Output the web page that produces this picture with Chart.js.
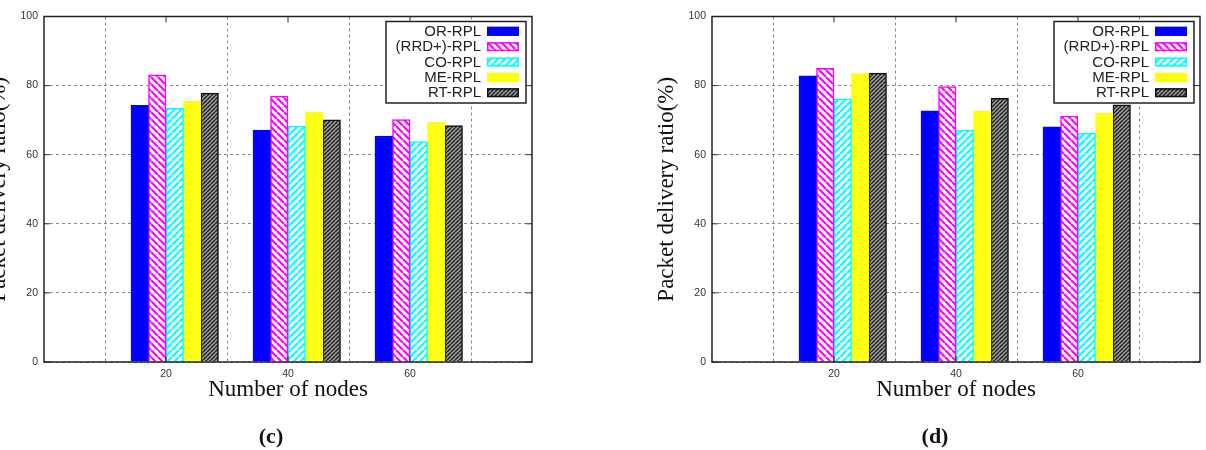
<!DOCTYPE html>
<html>
<head>
<meta charset="utf-8">
<script src="https://cdn.jsdelivr.net/npm/chart.js@4.4.1/dist/chart.umd.min.js"></script>
<style>
  html, body { margin: 0; padding: 0; background: #fff; }
  body { width: 1206px; height: 450px; overflow: hidden; position: relative; }
  .wrap { position: absolute; top: 0; height: 450px; }
  .cap { position: absolute; font-family: 'Liberation Serif', 'Times New Roman', serif; font-weight: bold;
         font-size: 22px; color: #111; transform: translate(-50%, -50%); white-space: nowrap; }
</style>
</head>
<body>
<div class="wrap" style="left:-45px;width:645px"><canvas id="chartC" width="645" height="450"></canvas></div>
<div class="wrap" style="left:623px;width:583px"><canvas id="chartD" width="583" height="450"></canvas></div>
<div class="cap" style="left:271px;top:436px">(c)</div>
<div class="cap" style="left:935px;top:436px">(d)</div>
<script>
// ---- data ----
const tickLabels = ['20', '40', '60'];
const seriesNames = ['OR-RPL', '(RRD+)-RPL', 'CO-RPL', 'ME-RPL', 'RT-RPL'];
const yTicks = [0, 20, 40, 60, 80, 100];

// panel (c)
const orRplC  = [74.3, 67.1, 65.4];
const rrdRplC = [83.1, 77.0, 70.2];
const coRplC  = [73.4, 68.3, 63.8];
const meRplC  = [75.5, 72.4, 69.4];
const rtRplC  = [77.8, 70.1, 68.4];

// panel (d)
const orRplD  = [82.8, 72.7, 68.1];
const rrdRplD = [85.0, 79.7, 71.2];
const coRplD  = [76.2, 67.1, 66.2];
const meRplD  = [83.5, 72.6, 72.0];
const rtRplD  = [83.6, 76.3, 74.4];

const xTitle = 'Number of nodes';
const yTitle = 'Packet delivery ratio(%)';

// ---- helpers ----
function hatch(ctx, bg, fg, dir, size, lw) {
  const c = document.createElement('canvas');
  c.width = size; c.height = size;
  const g = c.getContext('2d');
  g.fillStyle = bg; g.fillRect(0, 0, size, size);
  g.strokeStyle = fg; g.lineWidth = lw;
  g.beginPath();
  for (const o of [-size, 0, size]) {
    if (dir === '/') { g.moveTo(o, size); g.lineTo(o + size, 0); }
    else { g.moveTo(o, 0); g.lineTo(o + size, size); }
  }
  g.stroke();
  return ctx.createPattern(c, 'repeat');
}

const axisLabels = ['', ...tickLabels, ''];
const pad = arr => [null, ...arr, null];

const framePlugin = {
  id: 'frameLegend',
  afterDatasetsDraw(chart) {
    const { ctx, chartArea: a, scales: { x, y } } = chart;
    ctx.save();
    ctx.setLineDash([]);
    // inward tick marks
    ctx.strokeStyle = '#333';
    ctx.lineWidth = 1;
    ctx.beginPath();
    for (const v of yTicks) {
      const py = y.getPixelForValue(v);
      ctx.moveTo(a.left, py); ctx.lineTo(a.left + 6, py);
      ctx.moveTo(a.right, py); ctx.lineTo(a.right - 6, py);
    }
    axisLabels.forEach((l, i) => {
      if (!l) return;
      const px = x.getPixelForValue(i);
      ctx.moveTo(px, a.bottom); ctx.lineTo(px, a.bottom - 6);
      ctx.moveTo(px, a.top); ctx.lineTo(px, a.top + 6);
    });
    ctx.stroke();
    // frame
    ctx.strokeStyle = '#222';
    ctx.lineWidth = 1.5;
    ctx.strokeRect(a.left, a.top, a.right - a.left, a.bottom - a.top);

    // legend (gnuplot style: text right-aligned, sample on the right)
    const sampleRight = a.right - 13;
    const sampleLeft = sampleRight - 32;
    const textRight = sampleLeft - 6;
    const boxRight = sampleRight + 7;
    const boxLeft = textRight - 95;
    const boxTop = a.top + 5;
    const boxBottom = a.top + 86.5;
    ctx.fillStyle = '#fff';
    ctx.fillRect(boxLeft, boxTop, boxRight - boxLeft, boxBottom - boxTop);
    ctx.strokeStyle = '#222';
    ctx.lineWidth = 1.5;
    ctx.strokeRect(boxLeft, boxTop, boxRight - boxLeft, boxBottom - boxTop);
    const ds = chart.data.datasets.filter(d => d.label);
    ctx.font = '15px "Liberation Sans", Arial, sans-serif';
    ctx.textAlign = 'right';
    ctx.textBaseline = 'middle';
    ds.forEach((d, i) => {
      const ry = a.top + 14.8 + 15.35 * i;
      ctx.fillStyle = '#222';
      ctx.fillText(d.label, textRight, ry + 0.5);
      ctx.fillStyle = d.backgroundColor;
      ctx.fillRect(sampleLeft, ry - 4.5, 32, 9);
      ctx.strokeStyle = d.borderColor;
      ctx.lineWidth = 1.5;
      ctx.strokeRect(sampleLeft + 0.75, ry - 3.75, 30.5, 7.5);
    });
    ctx.restore();
  }
};

function makeChart(id, series, rightPad) {
  const canvas = document.getElementById(id);
  const ctx = canvas.getContext('2d');
  const styles = [
    { bg: '#0000ff', bd: '#0000ff' },
    { bg: hatch(ctx, '#ffffff', '#ff00ff', '\\', 7, 2.2), bd: '#ff00ff' },
    { bg: hatch(ctx, '#ffffff', '#00ffff', '/', 7, 2.2), bd: '#00ffff' },
    { bg: hatch(ctx, '#ffff00', '#ffff70', '\\', 4, 0.8), bd: '#ffff00' },
    { bg: hatch(ctx, '#a0a0a0', '#1a1a1a', '/', 4, 1.4), bd: '#111111' }
  ];
  const datasets = [
    // empty gap slot (gnuplot cluster gap)
    { label: '', data: pad([null, null, null]), backgroundColor: 'rgba(0,0,0,0)', borderWidth: 0 }
  ];
  series.forEach((s, i) => {
    datasets.push({
      label: seriesNames[i],
      data: pad(s),
      backgroundColor: styles[i].bg,
      borderColor: styles[i].bd,
      borderWidth: 1.5,
      borderSkipped: 'bottom'
    });
  });
  return new Chart(ctx, {
    type: 'bar',
    data: { labels: axisLabels, datasets },
    plugins: [framePlugin],
    options: {
      responsive: false,
      animation: false,
      events: [],
      barThickness: 17.5,
      layout: { padding: { left: 0, right: rightPad, top: 16.5, bottom: 0 } },
      plugins: { legend: { display: false }, tooltip: { enabled: false } },
      scales: {
        x: {
          type: 'category',
          offset: false,
          grid: { display: true, color: '#8a8a8a', lineWidth: 1, drawTicks: false },
          border: { display: false, dash: [3, 3] },
          ticks: { padding: 6, maxRotation: 0, autoSkip: false, color: '#333',
                   font: { family: 'Liberation Sans', size: 10.5 } },
          title: { display: true, text: xTitle, color: '#111',
                   font: { family: 'Liberation Serif', size: 23 },
                   padding: { top: 0, bottom: 46.2 } },
          afterFit(scale) { scale.height = 88; }
        },
        y: {
          min: 0, max: 100,
          grid: { display: true, color: '#8a8a8a', lineWidth: 1, drawTicks: false },
          border: { display: false, dash: [3, 3] },
          ticks: { stepSize: 20, padding: 6, color: '#333',
                   font: { family: 'Liberation Sans', size: 10.5 } },
          title: { display: true, text: yTitle, color: '#111',
                   font: { family: 'Liberation Serif', size: 23 },
                   padding: { top: 30.2, bottom: 0 } },
          afterFit(scale) { scale.width = 89; }
        }
      }
    }
  });
}

makeChart('chartC', [orRplC, rrdRplC, coRplC, meRplC, rtRplC], 68);
makeChart('chartD', [orRplD, rrdRplD, coRplD, meRplD, rtRplD], 6);
</script>
</body>
</html>
